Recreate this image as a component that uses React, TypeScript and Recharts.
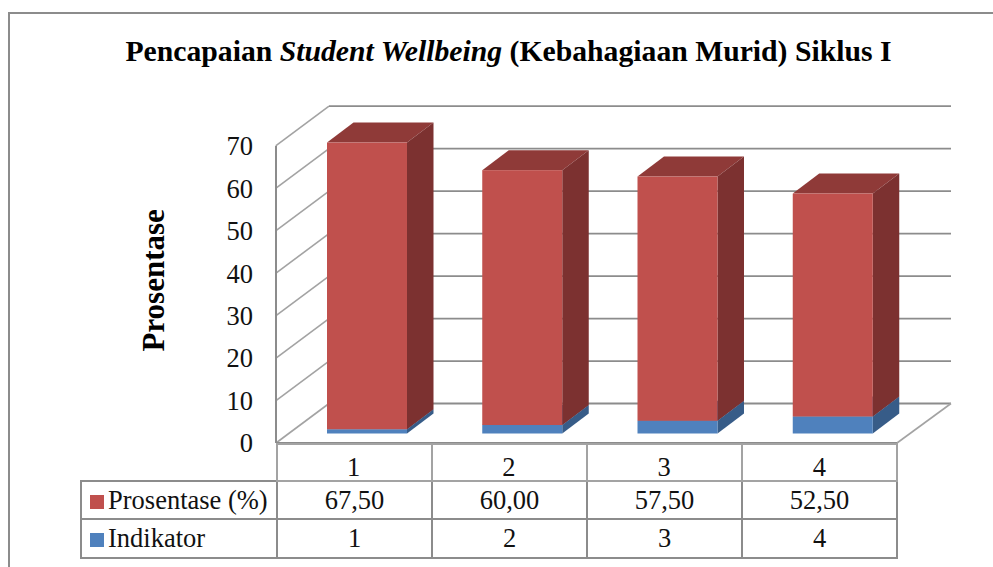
import React from 'react';
import { Bar, BarChart, CartesianGrid, XAxis, YAxis } from 'recharts';

const categories = ['1', '2', '3', '4'];
const prosentase = [67.5, 60, 57.5, 52.5];
const indikator = [1, 2, 3, 4];
const yTicks = [0, 10, 20, 30, 40, 50, 60, 70];

const data = categories.map((name, i) => ({
  name,
  prosentase: prosentase[i],
  indikator: indikator[i]
}));

const SERIF = '"Liberation Serif", serif';
const GRID = '#8c8c8c';
const DIAGONAL = '#a3a3a3';
const FONT_SIZE = 26.5;

// how far the bars sit behind the front plane, and how deep they are
const BAR_SHIFT = { x: 13, y: -9.5 };
const BAR_DEPTH = { x: 26.5, y: -20 };
const WALL_DEPTH = { x: 53, y: -39.5 };

const box3d = (front: string, side: string, top: string) => (props: any) => {
  const { width, height } = props;
  const x = props.x + BAR_SHIFT.x;
  const y = props.y + BAR_SHIFT.y;
  const { x: dx, y: dy } = BAR_DEPTH;
  return (
    <g>
      <path d={`M${x},${y} l${dx},${dy} h${width} l${-dx},${-dy} Z`} fill={top} />
      <path d={`M${x + width},${y} l${dx},${dy} v${height} l${-dx},${-dy} Z`} fill={side} />
      <rect x={x} y={y} width={width} height={height} fill={front} />
    </g>
  );
};

// each horizontal grid line goes along the side wall, then across the back wall
const wallLine = (props: any) => {
  const { x1, x2, y1, index } = props;
  const bx = x1 + WALL_DEPTH.x;
  const by = y1 + WALL_DEPTH.y;
  const isFloor = y1 === Math.max(y1, props.height + props.y);
  return (
    <g key={`wall-${index}`}>
      <line x1={x1} y1={y1} x2={bx} y2={by} stroke={DIAGONAL} strokeWidth={1.6} />
      <line x1={bx} y1={by} x2={x2 + WALL_DEPTH.x + 1} y2={by} stroke={GRID} strokeWidth={1.8} />
      {isFloor && (
        <line x1={x2} y1={y1} x2={x2 + WALL_DEPTH.x + 1} y2={by} stroke={DIAGONAL} strokeWidth={1.6} />
      )}
    </g>
  );
};

const cellStyle: React.CSSProperties = {
  border: `2px solid ${GRID}`,
  padding: 0,
  textAlign: 'center',
  lineHeight: 1
};

const LegendCell: React.FC<{ color: string; label: string }> = ({ color, label }) => (
  <td style={{ ...cellStyle, textAlign: 'left', whiteSpace: 'nowrap' }}>
    <span
      style={{
        display: 'inline-block',
        width: 14,
        height: 14,
        marginLeft: 8,
        marginRight: 4,
        background: color
      }}
    />
    {label}
  </td>
);

const DataTable: React.FC = () => (
  <table
    style={{
      position: 'absolute',
      left: 80,
      top: 443,
      width: 816,
      tableLayout: 'fixed',
      borderCollapse: 'collapse',
      fontFamily: SERIF,
      fontSize: FONT_SIZE,
      color: '#111'
    }}
  >
    <colgroup>
      <col style={{ width: 196 }} />
      <col style={{ width: 155 }} />
      <col style={{ width: 155 }} />
      <col style={{ width: 155 }} />
      <col style={{ width: 155 }} />
    </colgroup>
    <tbody>
      <tr style={{ height: 37 }}>
        <td style={{ padding: 0, border: 'none' }} />
        {categories.map((c) => (
          <td key={c} style={{ ...cellStyle, borderColor: '#a3a3a3' }} />
        ))}
      </tr>
      <tr style={{ height: 38 }}>
        <LegendCell color="#c0504d" label="Prosentase (%)" />
        {prosentase.map((v, i) => (
          <td key={i} style={cellStyle}>{v.toFixed(2).replace('.', ',')}</td>
        ))}
      </tr>
      <tr style={{ height: 39 }}>
        <LegendCell color="#4f81bd" label="Indikator" />
        {indikator.map((v, i) => (
          <td key={i} style={cellStyle}>{v}</td>
        ))}
      </tr>
    </tbody>
  </table>
);

export default function App() {
  return (
    <div
      style={{
        position: 'absolute',
        left: 0,
        top: 0,
        width: 993,
        height: 567,
        overflow: 'hidden',
        background: '#fff'
      }}
    >
      {/* outer frame runs off the right and bottom edge of the picture */}
      <div
        style={{
          position: 'absolute',
          left: 8,
          top: 12,
          width: 1100,
          height: 700,
          border: '2px solid #8c8c8c'
        }}
      />
      <div
        style={{
          position: 'absolute',
          left: 0,
          top: 35,
          width: 1017,
          textAlign: 'center',
          fontFamily: SERIF,
          fontWeight: 'bold',
          fontSize: 29.7,
          color: '#000',
          whiteSpace: 'nowrap'
        }}
      >
        Pencapaian <i>Student Wellbeing</i> (Kebahagiaan Murid) Siklus I
      </div>
      <div style={{ position: 'absolute', left: 0, top: 0 }}>
        <BarChart
          width={993}
          height={567}
          data={data}
          margin={{ top: 145.7, right: 96, bottom: 84, left: 76 }}
          barSize={80}
        >
          <CartesianGrid vertical={false} horizontal={wallLine} />
          <XAxis
            dataKey="name"
            tickLine={false}
            tickSize={0}
            tickMargin={14}
            height={40}
            axisLine={{ stroke: GRID, strokeWidth: 2 }}
            tick={{ fontFamily: SERIF, fontSize: FONT_SIZE, fill: '#111' }}
          />
          <YAxis
            domain={[0, 70]}
            ticks={yTicks}
            interval={0}
            tickLine={false}
            tickSize={0}
            tickMargin={23}
            axisLine={{ stroke: GRID, strokeWidth: 2 }}
            tick={{ fontFamily: SERIF, fontSize: FONT_SIZE, fill: '#111' }}
            label={{
              value: 'Prosentase',
              angle: -90,
              position: 'center',
              dx: -23,
              dy: -14,
              style: { fontFamily: SERIF, fontWeight: 'bold', fontSize: 31, fill: '#000' }
            }}
            width={200}
          />
          <Bar
            dataKey="indikator"
            stackId="a"
            isAnimationActive={false}
            shape={box3d('#4f81bd', '#375c88', '#3f6797')}
          />
          <Bar
            dataKey="prosentase"
            stackId="a"
            isAnimationActive={false}
            shape={box3d('#c0504d', '#7c3130', '#8f3a38')}
          />
        </BarChart>
      </div>
      <DataTable />
    </div>
  );
}
